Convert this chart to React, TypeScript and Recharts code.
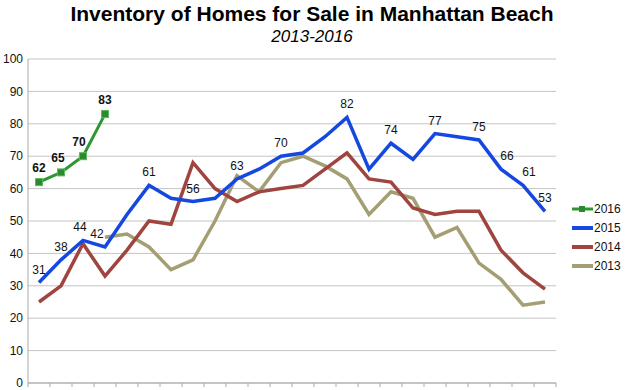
import React from "react";
import { LineChart, Line, XAxis, YAxis, CartesianGrid, Legend, LabelList } from "recharts";

// 24 reporting periods, no labels on the x axis in the original
const periods = [0, 1, 2, 3, 4, 5, 6, 7, 8, 9, 10, 11, 12, 13, 14, 15, 16, 17, 18, 19, 20, 21, 22, 23];

const inv2013 = [null, null, null, 45, 46, 42, 35, 38, 50, 64, 59, 68, 70, 67, 63, 52, 59, 57, 45, 48, 37, 32, 24, 25];
const inv2014 = [25, 30, 43, 33, 41, 50, 49, 68, 60, 56, 59, 60, 61, 66, 71, 63, 62, 54, 52, 53, 53, 41, 34, 29];
const inv2015 = [31, 38, 44, 42, 52, 61, 57, 56, 57, 63, 66, 70, 71, 76, 82, 66, 74, 69, 77, 76, 75, 66, 61, 53];
const inv2016 = [62, 65, 70, 83, null, null, null, null, null, null, null, null, null, null, null, null, null, null, null, null, null, null, null, null];

// which points carry a value label
const labeled2015 = [0, 1, 2, 3, 5, 7, 9, 11, 14, 16, 18, 20, 21, 22, 23];
const labeled2016 = [0, 1, 2, 3];

const yTicks = [0, 10, 20, 30, 40, 50, 60, 70, 80, 90, 100];

const FONT = '"Liberation Sans", Arial, Helvetica, sans-serif';

const colors = {
  y2016: "#2f9632",
  y2015: "#1548e0",
  y2014: "#a0443f",
  y2013: "#a49e74",
};

const legendItems = [
  { name: "2016", color: colors.y2016, marker: true },
  { name: "2015", color: colors.y2015, marker: false },
  { name: "2014", color: colors.y2014, marker: false },
  { name: "2013", color: colors.y2013, marker: false },
];

const data = periods.map((p, i) => ({
  x: p,
  y2013: inv2013[i],
  y2014: inv2014[i],
  y2015: inv2015[i],
  y2016: inv2016[i],
}));

// tick marks sit between the periods
const xTicks = [...periods.map((p) => p - 0.5), periods[periods.length - 1] + 0.5];

const makeLabel =
  (labeled: number[], bold: boolean, shifts: Record<number, number>) =>
  (props: any) => {
    const { x, y, value, index } = props;
    if (value == null || !labeled.includes(index)) return null;
    return (
      <text
        x={x + (shifts[index] || 0)}
        y={y - (bold ? 10 : 9)}
        textAnchor="middle"
        fontSize={12}
        fontWeight={bold ? "bold" : "normal"}
        fontFamily={FONT}
        fill="#111"
      >
        {value}
      </text>
    );
  };

const SquareDot = (props: any) => {
  const { cx, cy, index } = props;
  if (cx == null || cy == null || props.value == null) return <g key={index} />;
  return <rect key={index} x={cx - 3.5} y={cy - 3.5} width={7} height={7} fill="#2a8a2c" stroke="#5cb85c" strokeWidth={1} />;
};

const LegendBox = () => (
  <div style={{ fontFamily: FONT, fontSize: 12, color: "#111" }}>
    {legendItems.map((it) => (
      <div key={it.name} style={{ display: "flex", alignItems: "center", height: 18.8 }}>
        <svg width={22} height={10} style={{ display: "block" }}>
          <line x1={0} y1={5} x2={21} y2={5} stroke={it.color} strokeWidth={it.marker ? 3 : 4} />
          {it.marker && <rect x={7} y={2} width={6} height={6} fill="#2a8a2c" />}
        </svg>
        <span style={{ marginLeft: 0 }}>{it.name}</span>
      </div>
    ))}
  </div>
);

export default function App() {
  return (
    <div style={{ position: "absolute", left: 0, top: 0, width: 628, height: 390, background: "#fff" }}>
      <div
        style={{
          position: "absolute",
          left: 0,
          width: 628,
          top: 2,
          textAlign: "center",
          fontFamily: FONT,
          fontWeight: "bold",
          fontSize: 21,
          color: "#000",
          paddingLeft: 0,
          boxSizing: "border-box",
        }}
      >
        <div style={{ position: "relative", left: -2, lineHeight: "24px" }}>Inventory of Homes for Sale in Manhattan Beach</div>
      </div>
      <div
        style={{
          position: "absolute",
          left: 0,
          width: 628,
          top: 27,
          textAlign: "center",
          fontFamily: FONT,
          fontStyle: "italic",
          fontSize: 17,
          color: "#000",
        }}
      >
        <div style={{ position: "relative", left: -2, lineHeight: "20px" }}>2013-2016</div>
      </div>
      <LineChart width={628} height={390} data={data} margin={{ top: 59, right: 72, bottom: 0, left: 0 }}>
        <CartesianGrid vertical={false} stroke="#c4c4c4" strokeWidth={1} />
        <XAxis
          dataKey="x"
          type="number"
          domain={[-0.5, 23.5]}
          ticks={xTicks}
          interval={0}
          height={7}
          tickSize={4}
          tickFormatter={() => ""}
          stroke="#aaaaaa"
          allowDataOverflow
        />
        <YAxis
          domain={[0, 100]}
          ticks={yTicks}
          interval={0}
          width={28}
          tickLine={false}
          tickSize={3}
          tickMargin={2}
          stroke="#aaaaaa"
          tick={{ fill: "#111", fontSize: 12, fontFamily: FONT }}
        />
        <Legend
          layout="vertical"
          align="center"
          verticalAlign="middle"
          content={<LegendBox />}
          wrapperStyle={{ left: 572, top: 200, width: 56 }}
        />
        <Line
          dataKey="y2013"
          name="2013"
          stroke={colors.y2013}
          strokeWidth={3.5}
          dot={false}
          activeDot={false}
          isAnimationActive={false}
        />
        <Line
          dataKey="y2014"
          name="2014"
          stroke={colors.y2014}
          strokeWidth={3.5}
          dot={false}
          activeDot={false}
          isAnimationActive={false}
        />
        <Line
          dataKey="y2015"
          name="2015"
          stroke={colors.y2015}
          strokeWidth={3.5}
          dot={false}
          activeDot={false}
          isAnimationActive={false}
        >
          <LabelList dataKey="y2015" content={makeLabel(labeled2015, false, { 2: -3, 3: -8, 21: 6, 22: 6 })} />
        </Line>
        <Line
          dataKey="y2016"
          name="2016"
          stroke={colors.y2016}
          strokeWidth={3}
          dot={SquareDot}
          activeDot={false}
          isAnimationActive={false}
        >
          <LabelList dataKey="y2016" content={makeLabel(labeled2016, true, { 1: -3, 2: -4 })} />
        </Line>
      </LineChart>
    </div>
  );
}
